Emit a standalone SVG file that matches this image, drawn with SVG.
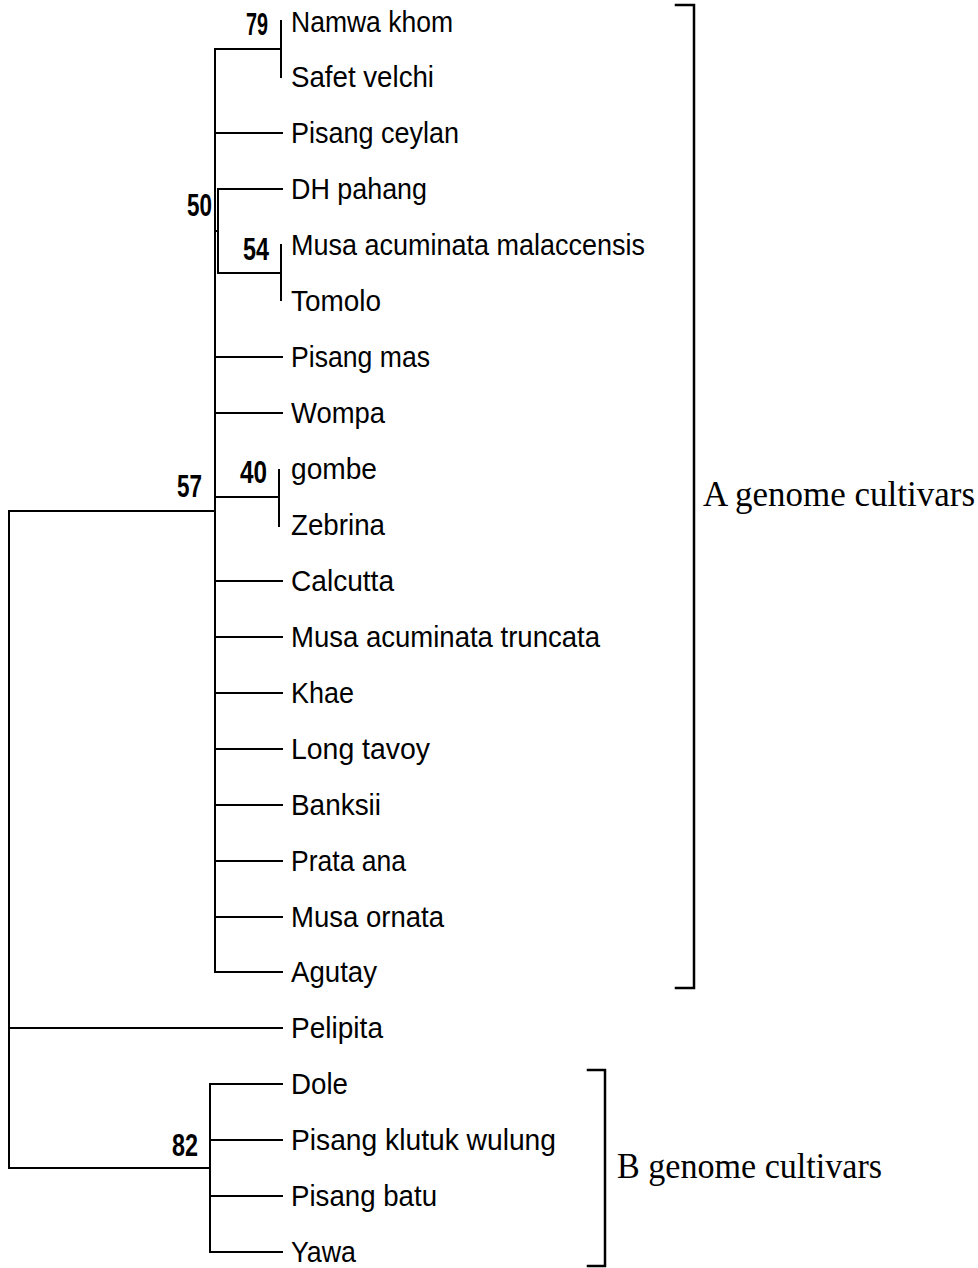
<svg xmlns="http://www.w3.org/2000/svg" width="978" height="1268" viewBox="0 0 978 1268">
<style>
.leaf{font-family:"Liberation Sans",Arial,sans-serif;font-size:29px;fill:#000}
.bs{font-family:"Liberation Sans",Arial,sans-serif;font-size:31px;font-weight:bold;fill:#000}
.grp{font-family:"Liberation Serif","Times New Roman",serif;fill:#000}
.ln{stroke:#000;stroke-width:2;fill:none;stroke-linecap:square}
</style>
<rect width="978" height="1268" fill="#fff"/>
<g id="connectors" class="ln">
<line x1="9" y1="511" x2="9" y2="1168"/>
<line x1="9" y1="511" x2="215" y2="511"/>
<line x1="9" y1="1028" x2="282" y2="1028"/>
<line x1="9" y1="1168" x2="210" y2="1168"/>
<line x1="215" y1="49" x2="215" y2="972"/>
<line x1="215" y1="49" x2="281" y2="49"/>
<line x1="281" y1="21" x2="281" y2="77"/>
<line x1="215" y1="133" x2="282" y2="133"/>
<line x1="215" y1="231" x2="218" y2="231"/>
<line x1="218" y1="189" x2="218" y2="273"/>
<line x1="218" y1="189" x2="282" y2="189"/>
<line x1="218" y1="273" x2="281" y2="273"/>
<line x1="281" y1="245" x2="281" y2="300"/>
<line x1="215" y1="357" x2="282" y2="357"/>
<line x1="215" y1="413" x2="282" y2="413"/>
<line x1="215" y1="497" x2="279" y2="497"/>
<line x1="279" y1="470" x2="279" y2="526"/>
<line x1="215" y1="581" x2="282" y2="581"/>
<line x1="215" y1="637" x2="282" y2="637"/>
<line x1="215" y1="693" x2="282" y2="693"/>
<line x1="215" y1="749" x2="282" y2="749"/>
<line x1="215" y1="805" x2="282" y2="805"/>
<line x1="215" y1="861" x2="282" y2="861"/>
<line x1="215" y1="917" x2="282" y2="917"/>
<line x1="215" y1="972" x2="282" y2="972"/>
<line x1="210" y1="1084" x2="210" y2="1252"/>
<line x1="210" y1="1084" x2="282" y2="1084"/>
<line x1="210" y1="1140" x2="282" y2="1140"/>
<line x1="210" y1="1196" x2="282" y2="1196"/>
<line x1="210" y1="1252" x2="282" y2="1252"/>
<polyline points="676,5 694,5 694,988 676,988" stroke-width="2.5"/>
<polyline points="588,1070 605,1070 605,1266 588,1266" stroke-width="2.5"/>
</g>
<g id="leaves">
<text id="n1" class="leaf" x="291" y="32" textLength="162" lengthAdjust="spacingAndGlyphs">Namwa khom</text>
<text id="n2" class="leaf" x="291" y="87" textLength="143" lengthAdjust="spacingAndGlyphs">Safet velchi</text>
<text id="n3" class="leaf" x="291" y="143" textLength="168" lengthAdjust="spacingAndGlyphs">Pisang ceylan</text>
<text id="n4" class="leaf" x="291" y="199" textLength="136" lengthAdjust="spacingAndGlyphs">DH pahang</text>
<text id="n5" class="leaf" x="291" y="255" textLength="354" lengthAdjust="spacingAndGlyphs">Musa acuminata malaccensis</text>
<text id="n6" class="leaf" x="291" y="311" textLength="90" lengthAdjust="spacingAndGlyphs">Tomolo</text>
<text id="n7" class="leaf" x="291" y="367" textLength="139" lengthAdjust="spacingAndGlyphs">Pisang mas</text>
<text id="n8" class="leaf" x="291" y="423" textLength="94" lengthAdjust="spacingAndGlyphs">Wompa</text>
<text id="n9" class="leaf" x="291" y="479" textLength="86" lengthAdjust="spacingAndGlyphs">gombe</text>
<text id="n10" class="leaf" x="291" y="535" textLength="94" lengthAdjust="spacingAndGlyphs">Zebrina</text>
<text id="n11" class="leaf" x="291" y="591" textLength="103" lengthAdjust="spacingAndGlyphs">Calcutta</text>
<text id="n12" class="leaf" x="291" y="647" textLength="309" lengthAdjust="spacingAndGlyphs">Musa acuminata truncata</text>
<text id="n13" class="leaf" x="291" y="703" textLength="63" lengthAdjust="spacingAndGlyphs">Khae</text>
<text id="n14" class="leaf" x="291" y="759" textLength="139" lengthAdjust="spacingAndGlyphs">Long tavoy</text>
<text id="n15" class="leaf" x="291" y="815" textLength="90" lengthAdjust="spacingAndGlyphs">Banksii</text>
<text id="n16" class="leaf" x="291" y="871" textLength="115" lengthAdjust="spacingAndGlyphs">Prata ana</text>
<text id="n17" class="leaf" x="291" y="927" textLength="153" lengthAdjust="spacingAndGlyphs">Musa ornata</text>
<text id="n18" class="leaf" x="291" y="982" textLength="86" lengthAdjust="spacingAndGlyphs">Agutay</text>
<text id="n19" class="leaf" x="291" y="1038" textLength="92" lengthAdjust="spacingAndGlyphs">Pelipita</text>
<text id="n20" class="leaf" x="291" y="1094" textLength="57" lengthAdjust="spacingAndGlyphs">Dole</text>
<text id="n21" class="leaf" x="291" y="1150" textLength="265" lengthAdjust="spacingAndGlyphs">Pisang klutuk wulung</text>
<text id="n22" class="leaf" x="291" y="1206" textLength="146" lengthAdjust="spacingAndGlyphs">Pisang batu</text>
<text id="n23" class="leaf" x="291" y="1262" textLength="65" lengthAdjust="spacingAndGlyphs">Yawa</text>
</g>
<g id="bootstrap">
<text class="bs" x="246" y="35" textLength="22" lengthAdjust="spacingAndGlyphs">79</text>
<text class="bs" x="187" y="216" textLength="25" lengthAdjust="spacingAndGlyphs">50</text>
<text class="bs" x="243" y="260" textLength="26" lengthAdjust="spacingAndGlyphs">54</text>
<text class="bs" x="240" y="483" textLength="27" lengthAdjust="spacingAndGlyphs">40</text>
<text class="bs" x="177" y="497" textLength="25" lengthAdjust="spacingAndGlyphs">57</text>
<text class="bs" x="172" y="1156" textLength="26" lengthAdjust="spacingAndGlyphs">82</text>
</g>
<g id="groupA">
<text class="grp" x="703" y="506" font-size="35" textLength="272" lengthAdjust="spacingAndGlyphs">A genome cultivars</text>
</g>
<g id="groupB">
<text class="grp" x="617" y="1178" font-size="35" textLength="265" lengthAdjust="spacingAndGlyphs">B genome cultivars</text>
</g>
</svg>
